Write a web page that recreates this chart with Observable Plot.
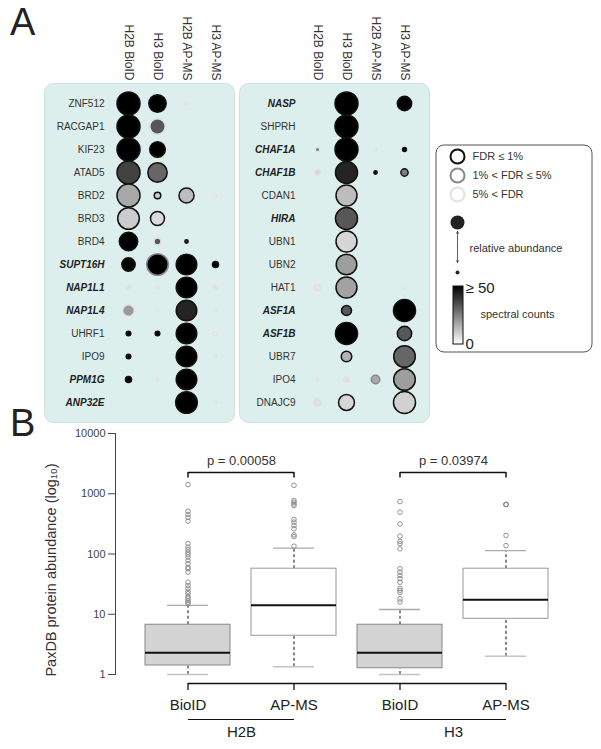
<!DOCTYPE html>
<html><head><meta charset="utf-8">
<script src="https://cdn.jsdelivr.net/npm/d3@7"></script>
<script src="https://cdn.jsdelivr.net/npm/@observablehq/plot@0.6"></script>
<style>
html,body{margin:0;padding:0;background:#fff;}
#fig{position:relative;width:601px;height:749px;overflow:hidden;font-family:"Liberation Sans",Arial,sans-serif;}
#fig svg{position:absolute;}
.letter{position:absolute;font-family:"Liberation Sans",Arial,sans-serif;font-size:38px;line-height:1;color:#222;}
</style></head><body>
<div id="fig">
  <div class="letter" style="left:10px;top:3px;">A</div>
  <div class="letter" style="left:10px;top:404px;">B</div>
</div>
<script>
// ---------- Panel A data ----------
const columns = ["H2B BioID", "H3 BioID", "H2B AP-MS", "H3 AP-MS"];
const leftProteins = ["ZNF512","RACGAP1","KIF23","ATAD5","BRD2","BRD3","BRD4","SUPT16H","NAP1L1","NAP1L4","UHRF1","IPO9","PPM1G","ANP32E"];
const rightProteins = ["NASP","SHPRH","CHAF1A","CHAF1B","CDAN1","HIRA","UBN1","UBN2","HAT1","ASF1A","ASF1B","UBR7","IPO4","DNAJC9"];
const highlighted = ["SUPT16H","NAP1L1","NAP1L4","PPM1G","ANP32E","NASP","CHAF1A","CHAF1B","HIRA","ASF1A","ASF1B"];

// relative abundance (0–100), columns: H2B BioID, H3 BioID, H2B AP-MS, H3 AP-MS
const leftAbundance = [
  [100, 57, 2, null], [100, 45, null, null], [100, 46, null, null], [100, 71, null, null],
  [100, 8, 43, 2], [88, 37, null, null], [64, 9, 2, null], [34, 88, 80, 7],
  [5, 2, 80, 5], [26, 1.5, 80, 1.5], [4, 4, 80, 3], [4, null, 80, 1.5],
  [7, 1.5, 80, null], [null, null, 88, 1.5]
];
// spectral counts (0 – ≥50)
const leftCounts = [
  [50, 50, 4, null], [50, 33, null, null], [50, 50, null, null], [37, 30, null, null],
  [17, 10, 13, 3], [10, 7, null, null], [50, 33, 40, null], [50, 50, 50, 50],
  [6, 4, 50, 6], [20, 3, 43, 3], [50, 50, 50, 4], [50, null, 50, 2],
  [50, 3, 50, null], [null, null, 50, 2]
];
// FDR class: 1 = FDR ≤ 1%, 2 = 1% < FDR ≤ 5%, 3 = 5% < FDR
const leftFdr = [
  [1, 1, 3, null], [1, 3, null, null], [1, 1, null, null], [1, 1, null, null],
  [1, 1, 1, 3], [1, 1, null, null], [1, 3, 1, null], [1, 2, 1, 1],
  [3, 3, 1, 3], [3, 3, 1, 3], [1, 1, 1, 3], [1, null, 1, 3],
  [1, 3, 1, null], [null, null, 1, 3]
];
const rightAbundance = [
  [null, 100, null, 39], [null, 100, null, null], [4, 100, 1.5, 3], [7, 92, 2, 10],
  [null, 83, null, null], [null, 92, null, null], [null, 83, null, null], [null, 80, null, null],
  [7, 83, null, 1.5], [null, 19, null, 92], [null, 92, null, 39], [null, 21, null, 88],
  [1.5, 7, 14, 88], [12, 48, null, 92]
];
const rightCounts = [
  [null, 50, null, 50], [null, 50, null, null], [25, 50, 3, 50], [8, 43, 50, 25],
  [null, 13, null, null], [null, 33, null, null], [null, 8, null, null], [null, 19, null, null],
  [5, 18, null, 3], [null, 33, null, 50], [null, 50, null, 33], [null, 15, null, 30],
  [3, 6, 17, 19], [6, 8, null, 9]
];
const rightFdr = [
  [null, 1, null, 1], [null, 1, null, null], [3, 1, 3, 1], [3, 1, 1, 1],
  [null, 1, null, null], [null, 1, null, null], [null, 1, null, null], [null, 1, null, null],
  [3, 1, null, 3], [null, 1, null, 1], [null, 1, null, 1], [null, 1, null, 1],
  [3, 3, 2, 1], [3, 1, null, 1]
];
const fdrLabels = ["FDR ≤ 1%", "1% < FDR ≤ 5%", "5% < FDR"];

// ---------- Panel B data ----------
const groups = ["H2B BioID", "H2B AP-MS", "H3 BioID", "H3 AP-MS"];
const boxQ1 = [1.41, 4.4, 1.27, 8.4];
const boxMedian = [2.29, 14.1, 2.29, 17.4];
const boxQ3 = [6.7, 57, 6.7, 57];
const whiskerLow = [1, 1.34, 1, 2];
const whiskerHigh = [14, 125, 12, 114];
const outliersH2BBioID = [1420, 513, 452, 405, 350, 149, 130, 118, 107, 98, 89, 78, 69, 60, 57, 50, 34, 30, 27, 24, 22, 19.7, 18.3, 16.9, 15.8, 14.9];
const outliersH2BAPMS = [1380, 773, 725, 676, 635, 374, 338, 297, 262, 208, 195, 135];
const outliersH3BioID = [742, 494, 316, 198, 162, 148, 122, 57, 50, 44, 39, 34, 27, 25, 23, 18, 16];
const outliersH3APMS = [664, 664, 664, 203, 138];
const yTicks = [1, 10, 100, 1000, 10000];
const comparisons = [
  {from: "H2B BioID", to: "H2B AP-MS", label: "p = 0.00058", top: 2250, end: 1830},
  {from: "H3 BioID", to: "H3 AP-MS", label: "p = 0.03974", top: 2250, end: 1830}
];
const histones = [
  {from: "H2B BioID", to: "H2B AP-MS", label: "H2B"},
  {from: "H3 BioID", to: "H3 AP-MS", label: "H3"}
];

// ---------- build tables ----------
function cells(proteins, abundance, counts, fdr) {
  const out = [];
  proteins.forEach((p, i) => columns.forEach((c, j) => {
    if (abundance[i][j] != null) out.push({protein: p, column: c, abundance: abundance[i][j], count: counts[i][j], fdr: fdr[i][j]});
  }));
  return out;
}
const fdrStroke = {1: "#111", 2: "#8a8a8a", 3: "#e2e2e2"};
const font = "'Liberation Sans', Arial, sans-serif";
const fig = document.getElementById("fig");

function place(svg, left, top) {
  svg.style.left = left + "px";
  svg.style.top = top + "px";
  fig.appendChild(svg);
}

function dotPanel(proteins, data, o) {
  return Plot.plot({
    width: o.width, height: 425,
    marginLeft: o.ml, marginRight: o.mr, marginTop: 83, marginBottom: 3,
    x: {type: "point", domain: columns, range: o.xRange, padding: 0, axis: null},
    y: {type: "point", domain: proteins, range: [98, 406], padding: 0, axis: null},
    r: {type: "sqrt", domain: [0, 100], range: [0, 11.5]},
    color: {type: "linear", domain: [0, 50], range: ["#ffffff", "#000000"], clamp: true},
    style: {background: "transparent", fontFamily: font, overflow: "visible"},
    marks: [
      Plot.frame({fill: "#ddefec", stroke: "#cde2de", rx: 9}),
      Plot.text(columns, {x: d => d, text: d => d, frameAnchor: "top", rotate: 90, textAnchor: "end", lineAnchor: "middle", dy: -3, fontSize: 12, fill: "#333"}),
      Plot.text(proteins.filter(p => !highlighted.includes(p)), {y: d => d, text: d => d, frameAnchor: "left", textAnchor: "end", dx: o.labelDx, fontSize: 10, fill: "#333"}),
      Plot.text(proteins.filter(p => highlighted.includes(p)), {y: d => d, text: d => d, frameAnchor: "left", textAnchor: "end", dx: o.labelDx, fontSize: 10, fill: "#222", fontWeight: "bold", fontStyle: "italic"}),
      ...[3, 2, 1].map(f => Plot.dot(data.filter(d => d.fdr === f), {x: "column", y: "protein", r: "abundance", fill: "count", stroke: fdrStroke[f], strokeWidth: 1.5}))
    ]
  });
}

place(dotPanel(leftProteins, cells(leftProteins, leftAbundance, leftCounts, leftFdr),
  {width: 236, ml: 44, mr: 2, xRange: [127, 215], labelDx: 60}), 0, 0);
place(dotPanel(rightProteins, cells(rightProteins, rightAbundance, rightCounts, rightFdr),
  {width: 196, ml: 3, mr: 3, xRange: [81, 168], labelDx: 56}), 236, 0);

// ---------- legend ----------
const legendLayout = {ringX: 27, ringY: [156, 175, 194], textX: 42, bigY: 222, smallY: 272, arrowTop: 231, arrowMid: 246, arrowBottom: 262};
const legendRings = fdrLabels.map((label, i) => ({label, fdr: i + 1, y: legendLayout.ringY[i]}));
const legend = Plot.plot({
  width: 171, height: 425, margin: 0,
  x: {type: "linear", domain: [0, 171], range: [0, 171], axis: null},
  y: {type: "linear", domain: [0, 425], range: [0, 425], axis: null},
  style: {background: "transparent", fontFamily: font, overflow: "visible"},
  marks: [
    () => {
      const defs = document.createElementNS("http://www.w3.org/2000/svg", "defs");
      defs.innerHTML = '<linearGradient id="scgrad" x1="0" y1="0" x2="0" y2="1"><stop offset="0" stop-color="#000"/><stop offset="1" stop-color="#fff"/></linearGradient>';
      return defs;
    },
    Plot.rect([0], {x1: 6, x2: 162, y1: 145, y2: 352, rx: 8, fill: "white", stroke: "#555"}),
    ...legendRings.map(d => Plot.dot([d], {x: () => legendLayout.ringX, y: "y", r: 7, stroke: fdrStroke[d.fdr], strokeWidth: 2, fill: "white"})),
    Plot.text(legendRings, {x: () => legendLayout.textX, y: "y", text: "label", textAnchor: "start", fontSize: 11, fill: "#333"}),
    Plot.dot([0], {x: () => legendLayout.ringX, y: () => legendLayout.bigY, r: 7, fill: "#222"}),
    Plot.dot([0], {x: () => legendLayout.ringX, y: () => legendLayout.smallY, r: 2, fill: "#222"}),
    Plot.arrow([legendLayout.arrowTop, legendLayout.arrowBottom], {x1: () => legendLayout.ringX, x2: () => legendLayout.ringX, y1: () => legendLayout.arrowMid, y2: d => d, headLength: 4, strokeWidth: 0.8, stroke: "#333"}),
    Plot.text(["relative abundance"], {x: () => 39, y: () => 248, text: d => d, textAnchor: "start", fontSize: 11, fill: "#333"}),
    Plot.rect([0], {x1: 23, x2: 33, y1: 286, y2: 344, fill: "url(#scgrad)", stroke: "#111"}),
    Plot.text(["≥ 50"], {x: () => 35, y: () => 288, text: d => d, textAnchor: "start", fontSize: 15, fill: "#222"}),
    Plot.text(["spectral counts"], {x: () => 50, y: () => 314, text: d => d, textAnchor: "start", fontSize: 11, fill: "#333"}),
    Plot.text(["0"], {x: () => 35, y: () => 344, text: d => d, textAnchor: "start", fontSize: 15, fill: "#222"})
  ]
});
place(legend, 430, 0);

// ---------- Panel B ----------
const boxes = groups.map((g, i) => ({key: g, method: g.split(" ")[1], q1: boxQ1[i], median: boxMedian[i], q3: boxQ3[i], lo: whiskerLow[i], hi: whiskerHigh[i]}));
const outliers = [
  ...outliersH2BBioID.map(v => ({key: groups[0], v})),
  ...outliersH2BAPMS.map(v => ({key: groups[1], v})),
  ...outliersH3BioID.map(v => ({key: groups[2], v})),
  ...outliersH3APMS.map(v => ({key: groups[3], v}))
];
const axisLineY = 0.709, axisTickY = 0.542, groupLineY = 0.179;
const panelB = Plot.plot({
  width: 601, height: 324,
  marginLeft: 115, marginRight: 40, marginTop: 8, marginBottom: 75,
  x: {type: "band", domain: groups, range: [132.3, 560.3], paddingInner: 0.2, paddingOuter: 0.1, axis: null},
  y: {type: "log", domain: [1, 10000], label: null},
  style: {background: "transparent", fontFamily: font, overflow: "visible"},
  marks: [
    Plot.frame({anchor: "left", stroke: "#444"}),
    Plot.axisY({ticks: yTicks, tickFormat: d => String(d), tickSize: 7, tickPadding: 3, fontSize: 11, color: "#444", label: null}),
    Plot.text(["PaxDB protein abundance (log₁₀)"], {frameAnchor: "left", text: d => d, rotate: -90, textAnchor: "middle", lineAnchor: "middle", dx: -64, dy: 16, fontSize: 14.5, fill: "#333"}),
    Plot.ruleX(boxes, {x: "key", y1: "q3", y2: "hi", stroke: "#111", strokeDasharray: "3,2.5"}),
    Plot.ruleX(boxes, {x: "key", y1: "lo", y2: "q1", stroke: "#111", strokeDasharray: "3,2.5"}),
    Plot.tickY(boxes, {x: "key", y: "hi", stroke: "#aaa", strokeWidth: 1.3, insetLeft: 22, insetRight: 22}),
    Plot.tickY(boxes, {x: "key", y: "lo", stroke: "#c4c4c4", strokeWidth: 1.5, insetLeft: 22, insetRight: 22}),
    Plot.barY(boxes.filter(d => d.method === "BioID"), {x: "key", y1: "q1", y2: "q3", fill: "#d3d3d3", stroke: "#888"}),
    Plot.barY(boxes.filter(d => d.method === "AP-MS"), {x: "key", y1: "q1", y2: "q3", fill: "white", stroke: "#999"}),
    Plot.tickY(boxes, {x: "key", y: "median", stroke: "#111", strokeWidth: 2}),
    Plot.dot(outliers, {x: "key", y: "v", r: 2.3, stroke: "#888", strokeWidth: 0.9, fill: "none"}),
    Plot.link(comparisons, {x1: "from", x2: "to", y1: "top", y2: "top", stroke: "#111", strokeWidth: 1.5}),
    Plot.ruleX(comparisons, {x: "from", y1: "top", y2: "end", stroke: "#111", strokeWidth: 1.5}),
    Plot.ruleX(comparisons, {x: "to", y1: "top", y2: "end", stroke: "#111", strokeWidth: 1.5}),
    Plot.text(comparisons, {x: "from", y: () => 3470, text: "label", dx: 53.5, fontSize: 13, fill: "#333"}),
    Plot.link([{from: groups[0], to: groups[3]}], {x1: "from", x2: "to", y1: () => axisLineY, y2: () => axisLineY, stroke: "#111", strokeWidth: 1.3}),
    Plot.ruleX(groups, {x: d => d, y1: () => axisLineY, y2: () => axisTickY, stroke: "#111", strokeWidth: 1.3}),
    Plot.text(groups, {x: d => d, text: d => d.split(" ")[1], frameAnchor: "bottom", dy: 35, fontSize: 15, fill: "#222"}),
    Plot.link(histones, {x1: "from", x2: "to", y1: () => groupLineY, y2: () => groupLineY, stroke: "#111", strokeWidth: 1.2}),
    Plot.text(histones, {x: "from", text: "label", frameAnchor: "bottom", dx: 53.5, dy: 62, fontSize: 15, fill: "#222"})
  ]
});
place(panelB, 0, 425);
</script></body></html>
